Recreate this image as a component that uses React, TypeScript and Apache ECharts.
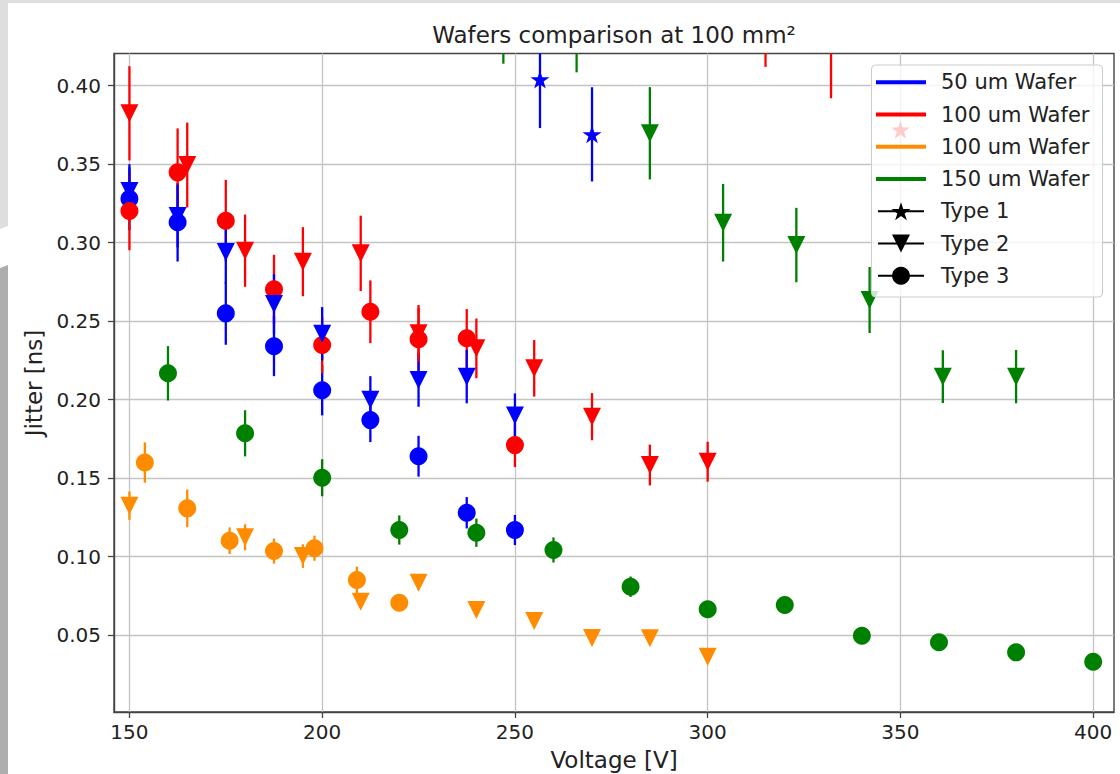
import React, { useEffect, useRef } from "react";
import * as echarts from "echarts";

// ---- data (Voltage [V], Jitter [ns], error [ns]) ----
const blueT1V = [256.5, 270];
const blueT1J = [0.404, 0.369];
const blueT1E = [0.031, 0.03];

const blueT2V = [150, 162.5, 175, 187.5, 200, 212.5, 225, 237.5, 250];
const blueT2J = [0.333, 0.317, 0.294, 0.261, 0.242, 0.2, 0.2125, 0.2147, 0.19];
const blueT2E = [0.017, 0.02, 0.02, 0.019, 0.017, 0.015, 0.017, 0.017, 0.014];

const blueT3V = [150, 162.5, 175, 187.5, 200, 212.5, 225, 237.5, 250];
const blueT3J = [0.328, 0.313, 0.255, 0.234, 0.206, 0.187, 0.164, 0.128, 0.117];
const blueT3E = [0.02, 0.025, 0.02, 0.019, 0.016, 0.014, 0.013, 0.01, 0.0096];

const redT1V = [315, 332, 350];
const redT1J = [0.45, 0.44, 0.372];
const redT1E = [0.038, 0.048, 0];

const redT2V = [150, 165, 180, 195, 210, 225, 240, 255, 270, 285, 300];
const redT2J = [0.3824, 0.3495, 0.2949, 0.2879, 0.2932, 0.2423, 0.2327, 0.22, 0.1892, 0.1584, 0.1605];
const redT2E = [0.03, 0.027, 0.023, 0.022, 0.024, 0.018, 0.019, 0.018, 0.015, 0.013, 0.0127];

const redT3V = [150, 162.5, 175, 187.5, 200, 212.5, 225, 237.5, 250];
const redT3J = [0.3202, 0.3448, 0.314, 0.2703, 0.2348, 0.256, 0.2385, 0.2391, 0.1711];
const redT3E = [0.025, 0.028, 0.026, 0.022, 0.018, 0.02, 0.02, 0.0186, 0.014];

const orangeT2V = [150, 180, 195, 210, 225, 240, 255, 270, 285, 300];
const orangeT2J = [0.1325, 0.1124, 0.1004, 0.0713, 0.0834, 0.066, 0.059, 0.0482, 0.048, 0.0363];
const orangeT2E = [0.009, 0.0083, 0.0075, 0.004, 0.004, 0.003, 0.003, 0.003, 0.003, 0.003];

const orangeT3V = [154, 165, 176, 187.5, 198, 209, 220];
const orangeT3J = [0.16, 0.1308, 0.1102, 0.1036, 0.1054, 0.0852, 0.0707];
const orangeT3E = [0.0128, 0.012, 0.0085, 0.008, 0.008, 0.0085, 0.004];

const greenT2V = [247, 266, 285, 304, 323, 342, 361, 380];
const greenT2J = [0.45, 0.44, 0.3697, 0.3127, 0.2985, 0.2635, 0.2147, 0.2147];
const greenT2E = [0.036, 0.0315, 0.0294, 0.0247, 0.0237, 0.021, 0.0168, 0.017];

const greenT3V = [160, 180, 200, 220, 240, 260, 280, 300, 320, 340, 360, 380, 400];
const greenT3J = [0.2168, 0.1786, 0.1503, 0.117, 0.1153, 0.1043, 0.0809, 0.0665, 0.0692, 0.0497, 0.0455, 0.0391, 0.0331];
const greenT3E = [0.0173, 0.0147, 0.0118, 0.0093, 0.009, 0.008, 0.0065, 0.003, 0.003, 0.003, 0.003, 0.003, 0.003];

const xTicks = [150, 200, 250, 300, 350, 400];
const yTicks = [0.05, 0.1, 0.15, 0.2, 0.25, 0.3, 0.35, 0.4];

const waferNames = ["50 um Wafer", "100 um Wafer", "100 um Wafer", "150 um Wafer"];
const waferColors = ["#0000ff", "#ff0000", "#ff8c00", "#008000"];
const typeNames = ["Type 1", "Type 2", "Type 3"];

const FONT = "DejaVu Sans";
const TXT = "#222222";

const STAR_PTS: [number, number][] = [
  [0, -1], [0.2245, -0.309], [0.951, -0.309], [0.3633, 0.118], [0.588, 0.809],
  [0, 0.382], [-0.588, 0.809], [-0.3633, 0.118], [-0.951, -0.309], [-0.2245, -0.309],
];
const STAR_PATH =
  "path://" +
  STAR_PTS.map((p, i) => (i === 0 ? "M" : "L") + (p[0] * 100).toFixed(2) + "," + (p[1] * 100).toFixed(2)).join(" ") +
  " Z";

type Group = { v: number[]; j: number[]; e: number[]; color: string; type: number };

const groups: Group[] = [
  // type 3 (circles)
  { v: blueT3V, j: blueT3J, e: blueT3E, color: waferColors[0], type: 3 },
  { v: redT3V, j: redT3J, e: redT3E, color: waferColors[1], type: 3 },
  { v: orangeT3V, j: orangeT3J, e: orangeT3E, color: waferColors[2], type: 3 },
  { v: greenT3V, j: greenT3J, e: greenT3E, color: waferColors[3], type: 3 },
  // type 2 (triangles down)
  { v: blueT2V, j: blueT2J, e: blueT2E, color: waferColors[0], type: 2 },
  { v: redT2V, j: redT2J, e: redT2E, color: waferColors[1], type: 2 },
  { v: orangeT2V, j: orangeT2J, e: orangeT2E, color: waferColors[2], type: 2 },
  { v: greenT2V, j: greenT2J, e: greenT2E, color: waferColors[3], type: 2 },
  // type 1 (stars)
  { v: blueT1V, j: blueT1J, e: blueT1E, color: waferColors[0], type: 1 },
  { v: redT1V, j: redT1J, e: redT1E, color: waferColors[1], type: 1 },
];

function buildSeries(): any[] {
  const out: any[] = [];
  groups.forEach((g) => {
    const color = g.color;
    out.push({
      type: "custom",
      silent: true,
      data: g.v.map((v, i) => [v, g.j[i], g.e[i]]),
      encode: { x: 0, y: 1 },
      renderItem: (params: any, api: any) => {
        const x = api.value(0);
        const y = api.value(1);
        const e = api.value(2);
        if (!e) return null;
        const p1 = api.coord([x, y + e]);
        const p2 = api.coord([x, y - e]);
        const cs = params.coordSys;
        const top = cs.y;
        const bot = cs.y + cs.height;
        const y1 = Math.max(top, Math.min(bot, p1[1]));
        const y2 = Math.max(top, Math.min(bot, p2[1]));
        if (Math.abs(y2 - y1) < 0.5) return null;
        return {
          type: "line",
          shape: { x1: p1[0], y1, x2: p1[0], y2 },
          style: { stroke: color, lineWidth: 2.3 },
        };
      },
    });
    let symbol: any = "circle";
    let size: any = 18;
    let rotate = 0;
    if (g.type === 2) {
      symbol = "triangle";
      size = [18, 18];
      rotate = 180;
    } else if (g.type === 1) {
      symbol = STAR_PATH;
      size = [19, 18];
    }
    out.push({
      type: "scatter",
      silent: true,
      clip: true,
      symbol,
      symbolSize: size,
      symbolRotate: rotate,
      itemStyle: { color, opacity: 1 },
      data: g.v.map((v, i) => [v, g.j[i]]),
    });
  });
  return out;
}

function buildGraphic(): any[] {
  const els: any[] = [];
  // page background artifacts
  els.push({ type: "rect", z: 0, shape: { x: 0, y: 0, width: 1120, height: 3 }, style: { fill: "#dedede" } });
  els.push({
    type: "polygon", z: 0,
    shape: { points: [[0, 0], [8, 0], [8, 226], [0, 229]] },
    style: { fill: "#dedede" },
  });
  els.push({
    type: "polygon", z: 0,
    shape: { points: [[0, 268], [8, 265], [8, 774], [0, 774]] },
    style: { fill: "#aeaeae" },
  });

  // title & axis names
  els.push({
    type: "text", x: 614, y: 35, z: 10,
    style: { text: "Wafers comparison at 100 mm²", font: `23px '${FONT}'`, fill: TXT, align: "center", verticalAlign: "middle" },
  });
  els.push({
    type: "text", x: 614, y: 760, z: 10,
    style: { text: "Voltage [V]", font: `23px '${FONT}'`, fill: TXT, align: "center", verticalAlign: "middle" },
  });
  els.push({
    type: "text", x: 34, y: 383, rotation: Math.PI / 2, z: 10,
    style: { text: "Jitter [ns]", font: `23px '${FONT}'`, fill: TXT, align: "center", verticalAlign: "middle" },
  });

  // legend
  const lx = 871.5, ly = 65, lw = 231, lh = 232;
  els.push({
    type: "rect", z: 100,
    shape: { x: lx, y: ly, width: lw, height: lh, r: 4 },
    style: { fill: "rgba(255,255,255,0.8)", stroke: "#cccccc", lineWidth: 1 },
  });
  const rowY = (i: number) => 82.3 + i * 32.25;
  waferNames.forEach((name, i) => {
    els.push({
      type: "line", z: 101,
      shape: { x1: 876, y1: rowY(i), x2: 926, y2: rowY(i) },
      style: { stroke: waferColors[i], lineWidth: 4 },
    });
    els.push({
      type: "text", x: 941, y: rowY(i), z: 101,
      style: { text: name, font: `21px '${FONT}'`, fill: TXT, align: "left", verticalAlign: "middle" },
    });
  });
  typeNames.forEach((name, k) => {
    const i = k + 4;
    const cy = rowY(i);
    const cx = 901;
    els.push({
      type: "line", z: 101,
      shape: { x1: 878, y1: cy, x2: 924, y2: cy },
      style: { stroke: "#000", lineWidth: 2 },
    });
    if (k === 0) {
      els.push({
        type: "polygon", z: 102,
        shape: { points: STAR_PTS.map((p) => [cx + p[0] * 10, cy + p[1] * 10 + 0.9]) },
        style: { fill: "#000" },
      });
    } else if (k === 1) {
      els.push({
        type: "polygon", z: 102,
        shape: { points: [[cx - 9, cy - 9], [cx + 9, cy - 9], [cx, cy + 9]] },
        style: { fill: "#000" },
      });
    } else {
      els.push({
        type: "circle", z: 102,
        shape: { cx, cy, r: 9 },
        style: { fill: "#000" },
      });
    }
    els.push({
      type: "text", x: 941, y: cy, z: 101,
      style: { text: name, font: `21px '${FONT}'`, fill: TXT, align: "left", verticalAlign: "middle" },
    });
  });
  return els;
}

export default function App() {
  const ref = useRef<HTMLDivElement>(null);
  useEffect(() => {
    document.body.style.margin = "0";
    if (!ref.current) return;
    const chart = echarts.init(ref.current, undefined, { renderer: "svg" });
    const option: any = {
      animation: false,
      backgroundColor: "#ffffff",
      textStyle: { fontFamily: FONT },
      grid: {
        left: 114, right: 6, top: 53.5, bottom: 62,
        show: true, borderColor: "#444444", borderWidth: 1.4, backgroundColor: "transparent",
      },
      xAxis: {
        type: "value",
        min: 146,
        max: 405.4,
        axisLine: { show: true, onZero: false, lineStyle: { color: "#444444", width: 1.4 } },
        axisTick: { show: true, length: 6, lineStyle: { color: "#444444", width: 1.3 }, customValues: xTicks },
        axisLabel: {
          customValues: xTicks, margin: 10, fontSize: 20, color: TXT, fontFamily: FONT,
          formatter: (v: number) => String(Math.round(v)),
        },
        splitLine: { show: true, lineStyle: { color: "#c4c4c4", width: 1.3 } },
      },
      yAxis: {
        type: "value",
        min: 0.0011,
        max: 0.4205,
        axisLine: { show: true, onZero: false, lineStyle: { color: "#444444", width: 1.4 } },
        axisTick: { show: true, length: 6, lineStyle: { color: "#444444", width: 1.3 }, customValues: yTicks },
        axisLabel: {
          customValues: yTicks, margin: 13, fontSize: 20, color: TXT, fontFamily: FONT,
          formatter: (v: number) => v.toFixed(2),
        },
        splitLine: { show: true, lineStyle: { color: "#c4c4c4", width: 1.3 } },
      },
      series: buildSeries(),
      graphic: buildGraphic(),
    };
    chart.setOption(option);
    return () => chart.dispose();
  }, []);
  return <div ref={ref} style={{ width: 1120, height: 774 }} />;
}
